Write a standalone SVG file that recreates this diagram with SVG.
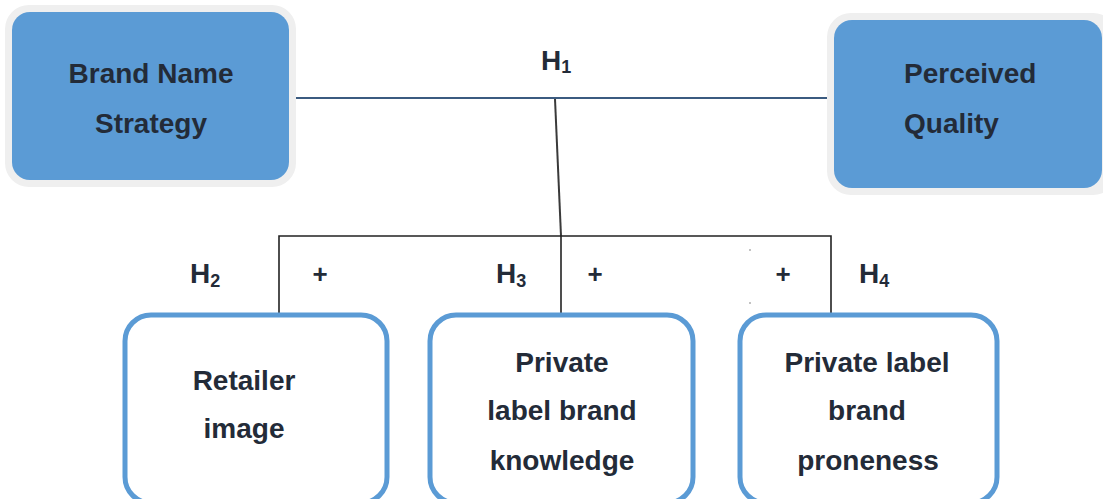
<svg xmlns="http://www.w3.org/2000/svg" width="1103" height="499" viewBox="0 0 1103 499">
  <defs>
    <style>
      .halo { fill: #efefef; }
      .solid { fill: #5b9bd5; }
      .outline { fill: #ffffff; stroke: #5b9bd5; stroke-width: 5; }
      .lbl { font-family: "Liberation Sans", Arial, sans-serif; font-weight: bold; font-size: 28px; fill: #232b38; }
      .hyp { font-family: "Liberation Sans", Arial, sans-serif; font-weight: bold; font-size: 28px; fill: #232b38; }
      .sub { font-size: 18px; }
      .plus { font-family: "Liberation Sans", Arial, sans-serif; font-weight: bold; font-size: 26px; fill: #232b38; text-anchor: middle; }
      .link { fill: none; stroke: #222222; stroke-width: 1.6; }
    </style>
  </defs>
  <rect width="1103" height="499" fill="#ffffff"/>

  <!-- connectors -->
  <g id="connectors">
    <line x1="293" y1="98" x2="828" y2="98" stroke="#3b5b80" stroke-width="2"/>
    <line x1="555" y1="99" x2="561" y2="236" stroke="#3a3a3a" stroke-width="2"/>
    <path class="link" d="M279,314 V236 H831 V314"/>
    <line class="link" x1="561" y1="236" x2="561" y2="314"/>
    <circle cx="750" cy="250" r="0.8" fill="#777"/>
    <circle cx="750" cy="303" r="0.8" fill="#777"/>
    <circle cx="593" cy="330" r="0.8" fill="#777"/>
  </g>

  <!-- hypothesis labels -->
  <g id="labels">
    <text class="hyp" x="541" y="70">H<tspan class="sub" dy="3">1</tspan></text>
    <text class="hyp" x="190" y="283">H<tspan class="sub" dy="4">2</tspan></text>
    <text class="hyp" x="496" y="283">H<tspan class="sub" dy="4">3</tspan></text>
    <text class="hyp" x="859" y="283">H<tspan class="sub" dy="4">4</tspan></text>
    <text class="plus" x="320" y="283">+</text>
    <text class="plus" x="595" y="283">+</text>
    <text class="plus" x="783" y="283">+</text>
  </g>

  <!-- Brand Name Strategy -->
  <g id="brand-name-strategy">
    <rect class="halo" x="5" y="5" width="291" height="182" rx="24"/>
    <rect class="solid" x="12" y="12" width="277" height="168" rx="18"/>
    <text class="lbl" x="151" y="83" text-anchor="middle">Brand Name</text>
    <text class="lbl" x="151" y="133" text-anchor="middle">Strategy</text>
  </g>

  <!-- Perceived Quality -->
  <g id="perceived-quality">
    <rect class="halo" x="827" y="13" width="290" height="182" rx="24"/>
    <rect class="solid" x="834" y="20" width="268" height="168" rx="18"/>
    <text class="lbl" x="904" y="83">Perceived</text>
    <text class="lbl" x="904" y="133">Quality</text>
  </g>

  <!-- Retailer image -->
  <g id="retailer-image">
    <rect class="outline" x="125" y="315" width="262" height="188" rx="26"/>
    <text class="lbl" x="244" y="390" text-anchor="middle">Retailer</text>
    <text class="lbl" x="244" y="438" text-anchor="middle">image</text>
  </g>

  <!-- Private label brand knowledge -->
  <g id="pl-brand-knowledge">
    <rect class="outline" x="430" y="315" width="263" height="188" rx="26"/>
    <text class="lbl" x="562" y="372" text-anchor="middle">Private</text>
    <text class="lbl" x="562" y="420" text-anchor="middle">label brand</text>
    <text class="lbl" x="562" y="470" text-anchor="middle">knowledge</text>
  </g>

  <!-- Private label brand proneness -->
  <g id="pl-brand-proneness">
    <rect class="outline" x="740" y="315" width="257" height="188" rx="26"/>
    <text class="lbl" x="867" y="372" text-anchor="middle">Private label</text>
    <text class="lbl" x="867" y="420" text-anchor="middle">brand</text>
    <text class="lbl" x="868" y="470" text-anchor="middle">proneness</text>
  </g>
</svg>
